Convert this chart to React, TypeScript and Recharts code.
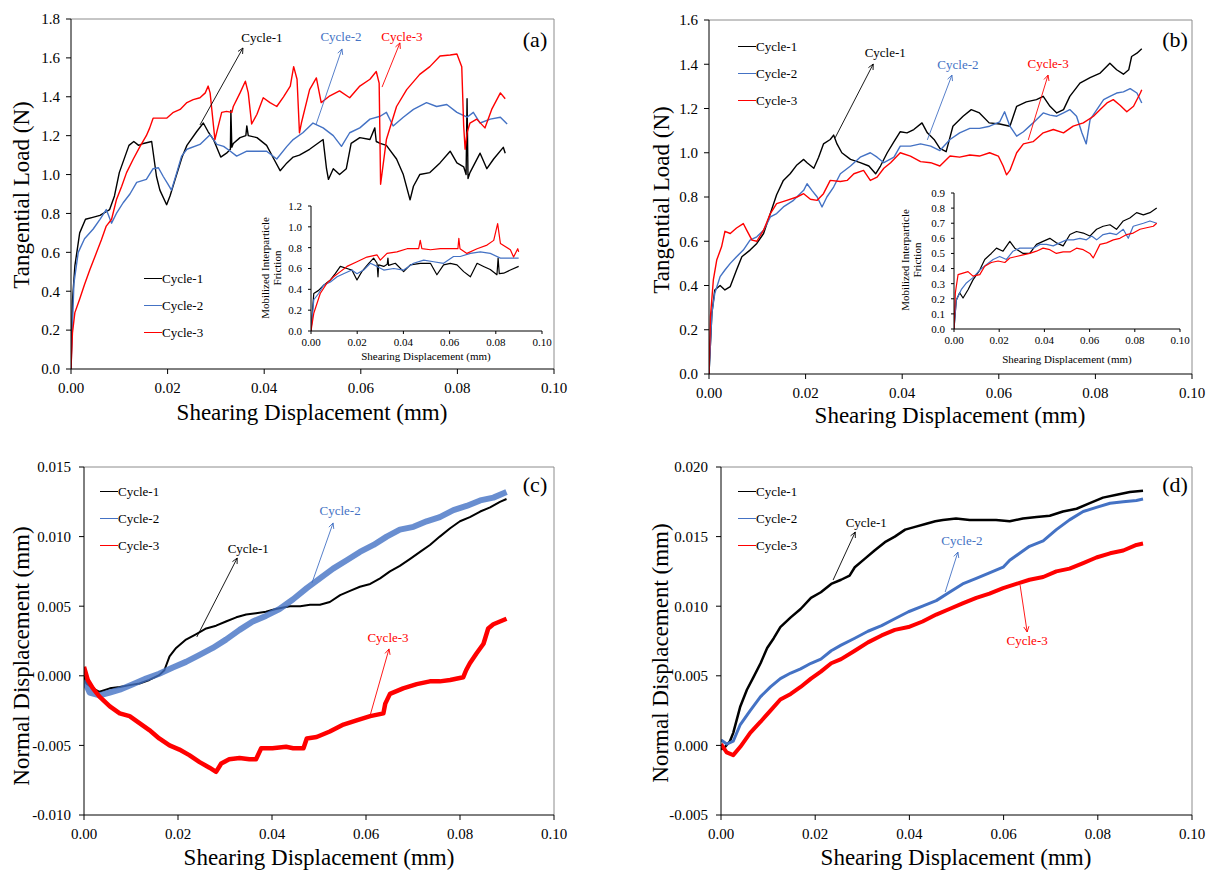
import React from 'react';
import { LineChart, Line, XAxis, YAxis, ReferenceLine, Legend } from 'recharts';

type Pt = [number, number];

const FONT = "'Liberation Serif', 'Times New Roman', serif";
const BLACK = '#000000';
const BLUE = '#4472C4';
const RED = '#FF0000';

const cycleNames = ['Cycle-1', 'Cycle-2', 'Cycle-3'];
const cycleColors = [BLACK, BLUE, RED];

// (a) tangential load vs shearing displacement
const loadA1: Pt[] = [[0,0],[0.0003,0.35],[0.0008,0.53],[0.0018,0.70],[0.003,0.77],[0.0045,0.78],[0.006,0.79],[0.008,0.82],[0.009,0.89],[0.010,1.01],[0.012,1.15],[0.013,1.17],[0.014,1.15],[0.015,1.16],[0.0167,1.17],[0.0177,0.99],[0.0184,0.92],[0.0198,0.845],[0.0205,0.89],[0.0215,0.97],[0.023,1.09],[0.024,1.15],[0.026,1.22],[0.0274,1.265],[0.0284,1.22],[0.0295,1.18],[0.031,1.09],[0.0322,1.11],[0.033,1.13],[0.0331,1.33],[0.0333,1.14],[0.0336,1.16],[0.035,1.19],[0.0362,1.20],[0.0364,1.25],[0.0367,1.20],[0.0385,1.19],[0.0405,1.15],[0.042,1.08],[0.0433,1.02],[0.0447,1.06],[0.046,1.09],[0.0473,1.10],[0.0494,1.13],[0.0522,1.18],[0.0529,1.03],[0.0533,0.975],[0.0543,1.03],[0.0556,1.0],[0.057,1.03],[0.058,1.16],[0.0598,1.19],[0.0619,1.18],[0.0629,1.24],[0.0632,1.17],[0.064,1.16],[0.0653,1.15],[0.0674,1.08],[0.0688,1.0],[0.0702,0.87],[0.0709,0.94],[0.0722,1.0],[0.0743,1.01],[0.0764,1.06],[0.0785,1.12],[0.0799,1.06],[0.0813,1.04],[0.0818,1.0],[0.082,1.39],[0.0822,0.98],[0.0826,1.01],[0.0847,1.11],[0.0861,1.03],[0.0875,1.08],[0.0895,1.14],[0.0899,1.11]];
const loadA2: Pt[] = [[0,0],[0.0006,0.44],[0.0015,0.60],[0.0028,0.67],[0.0046,0.72],[0.006,0.77],[0.0073,0.82],[0.0084,0.75],[0.0094,0.80],[0.0108,0.855],[0.0122,0.90],[0.0136,0.96],[0.0156,0.975],[0.017,1.03],[0.0181,1.035],[0.0191,0.99],[0.0201,0.95],[0.0208,0.92],[0.0219,1.01],[0.0229,1.095],[0.024,1.13],[0.0267,1.155],[0.0288,1.205],[0.0302,1.155],[0.0316,1.145],[0.033,1.12],[0.0343,1.095],[0.0364,1.12],[0.0385,1.12],[0.0405,1.12],[0.0426,1.08],[0.0447,1.145],[0.046,1.18],[0.048,1.215],[0.0501,1.265],[0.0522,1.24],[0.0543,1.2],[0.056,1.145],[0.0577,1.215],[0.0598,1.24],[0.0619,1.285],[0.064,1.30],[0.0653,1.32],[0.0667,1.25],[0.0688,1.295],[0.0709,1.335],[0.0736,1.37],[0.0757,1.35],[0.0778,1.36],[0.0799,1.32],[0.082,1.295],[0.0833,1.32],[0.0847,1.265],[0.0868,1.285],[0.0889,1.295],[0.0903,1.26]];
const loadA3: Pt[] = [[0,0],[0.0003,0.185],[0.0008,0.29],[0.0018,0.36],[0.0028,0.435],[0.0039,0.51],[0.0053,0.60],[0.0063,0.665],[0.0073,0.735],[0.0084,0.77],[0.0094,0.87],[0.0105,0.94],[0.0115,1.01],[0.0129,1.08],[0.0143,1.145],[0.0156,1.20],[0.0163,1.24],[0.017,1.29],[0.0184,1.29],[0.0198,1.29],[0.0212,1.32],[0.0226,1.335],[0.024,1.37],[0.0253,1.385],[0.0267,1.395],[0.0278,1.42],[0.0284,1.455],[0.0288,1.42],[0.0295,1.25],[0.0298,1.18],[0.0305,1.25],[0.0312,1.32],[0.0322,1.325],[0.0333,1.32],[0.0336,1.35],[0.035,1.42],[0.0361,1.48],[0.0367,1.42],[0.0374,1.26],[0.0385,1.31],[0.0398,1.395],[0.0412,1.37],[0.0426,1.35],[0.044,1.40],[0.0454,1.455],[0.0461,1.555],[0.0468,1.49],[0.0473,1.215],[0.0477,1.265],[0.0494,1.437],[0.0508,1.497],[0.0518,1.37],[0.0536,1.405],[0.0556,1.43],[0.0577,1.395],[0.0598,1.455],[0.0619,1.49],[0.0632,1.53],[0.0638,1.47],[0.0641,0.95],[0.0653,1.18],[0.0674,1.35],[0.0695,1.437],[0.0722,1.515],[0.0743,1.555],[0.0764,1.61],[0.0785,1.615],[0.0799,1.62],[0.0809,1.555],[0.0813,1.25],[0.0816,1.13],[0.082,1.215],[0.0826,1.265],[0.084,1.285],[0.0857,1.24],[0.0871,1.335],[0.0889,1.42],[0.0899,1.39]];

// (a) inset: mobilized interparticle friction
const fricA1: Pt[] = [[0,0],[0.0012,0.36],[0.0033,0.39],[0.0055,0.44],[0.0084,0.49],[0.0105,0.55],[0.0127,0.62],[0.0156,0.60],[0.0177,0.585],[0.0199,0.49],[0.022,0.57],[0.025,0.65],[0.0271,0.70],[0.0286,0.65],[0.029,0.52],[0.0293,0.635],[0.0315,0.62],[0.033,0.64],[0.0333,0.70],[0.0336,0.63],[0.0365,0.65],[0.0401,0.57],[0.043,0.635],[0.0473,0.65],[0.0517,0.65],[0.0545,0.54],[0.0574,0.635],[0.0603,0.65],[0.0632,0.635],[0.0661,0.57],[0.069,0.52],[0.0719,0.65],[0.0747,0.62],[0.0776,0.59],[0.0805,0.54],[0.081,0.70],[0.0815,0.55],[0.0834,0.555],[0.0863,0.585],[0.0899,0.62]];
const fricA2: Pt[] = [[0,0],[0.0012,0.30],[0.0033,0.36],[0.0055,0.44],[0.0084,0.47],[0.0113,0.52],[0.0141,0.55],[0.0177,0.585],[0.0199,0.55],[0.0228,0.585],[0.0257,0.65],[0.0286,0.62],[0.0315,0.585],[0.0358,0.60],[0.0401,0.585],[0.0444,0.65],[0.0488,0.68],[0.0531,0.665],[0.0574,0.65],[0.0617,0.715],[0.0646,0.715],[0.069,0.745],[0.0733,0.76],[0.0776,0.745],[0.082,0.70],[0.0863,0.70],[0.0899,0.70]];
const fricA3: Pt[] = [[0,0],[0.0012,0.17],[0.004,0.36],[0.0069,0.46],[0.0098,0.52],[0.0127,0.57],[0.0156,0.62],[0.0199,0.665],[0.0242,0.71],[0.0286,0.73],[0.03,0.68],[0.0329,0.745],[0.0372,0.76],[0.0416,0.79],[0.0466,0.79],[0.0473,0.87],[0.048,0.79],[0.0517,0.78],[0.056,0.79],[0.0603,0.79],[0.0636,0.79],[0.064,0.89],[0.0645,0.79],[0.0675,0.745],[0.0719,0.79],[0.0762,0.825],[0.0791,0.87],[0.0808,1.03],[0.082,0.84],[0.0863,0.78],[0.0877,0.71],[0.0895,0.79],[0.0899,0.76]];

// (b) tangential load vs shearing displacement
const loadB1: Pt[] = [[0,0],[0.0006,0.275],[0.0012,0.38],[0.0023,0.40],[0.0033,0.38],[0.0044,0.395],[0.0057,0.47],[0.0068,0.53],[0.0085,0.56],[0.0099,0.59],[0.0113,0.635],[0.0127,0.725],[0.014,0.81],[0.0154,0.875],[0.0168,0.905],[0.0182,0.945],[0.0196,0.97],[0.0203,0.955],[0.0217,0.93],[0.0227,0.98],[0.0237,1.04],[0.0251,1.06],[0.0258,1.08],[0.0265,1.04],[0.0275,1.0],[0.0293,0.97],[0.0313,0.955],[0.0331,0.94],[0.0345,0.905],[0.0355,0.94],[0.0369,1.0],[0.0383,1.05],[0.0396,1.095],[0.041,1.09],[0.0424,1.105],[0.0441,1.135],[0.0452,1.09],[0.0466,1.06],[0.0478,1.02],[0.0491,1.005],[0.0505,1.12],[0.0526,1.165],[0.0543,1.195],[0.056,1.18],[0.058,1.135],[0.0602,1.13],[0.0623,1.12],[0.0637,1.21],[0.0657,1.23],[0.0678,1.24],[0.0692,1.255],[0.0706,1.21],[0.072,1.18],[0.0734,1.195],[0.0747,1.255],[0.0768,1.315],[0.0789,1.34],[0.081,1.36],[0.083,1.405],[0.0844,1.375],[0.0858,1.355],[0.0869,1.375],[0.0875,1.435],[0.0886,1.45],[0.0896,1.47]];
const loadB2: Pt[] = [[0,0],[0.0006,0.275],[0.0012,0.365],[0.0023,0.44],[0.0033,0.47],[0.0044,0.50],[0.0057,0.53],[0.0071,0.56],[0.0085,0.605],[0.0099,0.62],[0.0113,0.65],[0.0127,0.71],[0.014,0.725],[0.0154,0.755],[0.0175,0.785],[0.0196,0.83],[0.0203,0.86],[0.0213,0.83],[0.0224,0.80],[0.0234,0.755],[0.0244,0.80],[0.0258,0.845],[0.0272,0.905],[0.0293,0.94],[0.0313,0.98],[0.0334,1.0],[0.0348,0.98],[0.0362,0.955],[0.0383,0.98],[0.0396,1.03],[0.0417,1.03],[0.0438,1.04],[0.0459,1.03],[0.0478,1.01],[0.0499,1.06],[0.0519,1.09],[0.054,1.11],[0.056,1.11],[0.0581,1.12],[0.0602,1.14],[0.0612,1.185],[0.0623,1.12],[0.0637,1.075],[0.0651,1.095],[0.0671,1.135],[0.0692,1.18],[0.0706,1.17],[0.072,1.165],[0.0734,1.18],[0.0747,1.195],[0.0761,1.165],[0.0772,1.09],[0.0781,1.04],[0.0789,1.15],[0.0803,1.195],[0.0817,1.24],[0.083,1.255],[0.0844,1.27],[0.0858,1.275],[0.0872,1.29],[0.0886,1.27],[0.0896,1.225]];
const loadB3: Pt[] = [[0,0],[0.0003,0.26],[0.0009,0.425],[0.0016,0.515],[0.0026,0.575],[0.0033,0.645],[0.0044,0.635],[0.0057,0.66],[0.0071,0.68],[0.0078,0.65],[0.0089,0.605],[0.0099,0.60],[0.0113,0.65],[0.0127,0.725],[0.014,0.77],[0.0161,0.785],[0.0182,0.80],[0.0196,0.815],[0.021,0.79],[0.0224,0.785],[0.0237,0.815],[0.0251,0.875],[0.0272,0.87],[0.0286,0.875],[0.03,0.905],[0.032,0.92],[0.0334,0.875],[0.0348,0.89],[0.0362,0.93],[0.0376,0.955],[0.0396,1.0],[0.0417,0.985],[0.0438,0.96],[0.0459,0.955],[0.0478,0.94],[0.0499,0.985],[0.0519,0.98],[0.054,0.99],[0.056,0.985],[0.0581,1.0],[0.0599,0.985],[0.0609,0.94],[0.0616,0.90],[0.0623,0.92],[0.0637,1.0],[0.0651,1.04],[0.0671,1.05],[0.0692,1.09],[0.0713,1.105],[0.0734,1.09],[0.0754,1.12],[0.0775,1.135],[0.0796,1.165],[0.081,1.195],[0.0824,1.225],[0.0837,1.24],[0.0851,1.215],[0.0865,1.185],[0.0879,1.21],[0.0893,1.27],[0.0896,1.285]];

// (b) inset: mobilized interparticle friction
const fricB1: Pt[] = [[0,0],[0.001,0.19],[0.0025,0.24],[0.004,0.205],[0.0062,0.26],[0.0084,0.325],[0.0114,0.39],[0.0136,0.46],[0.0165,0.50],[0.0188,0.535],[0.0217,0.515],[0.0247,0.58],[0.0269,0.535],[0.0306,0.50],[0.0335,0.50],[0.0365,0.56],[0.0394,0.58],[0.0424,0.60],[0.0453,0.57],[0.0483,0.55],[0.0513,0.625],[0.0542,0.645],[0.0572,0.635],[0.0601,0.615],[0.0631,0.66],[0.066,0.68],[0.069,0.69],[0.0719,0.66],[0.0749,0.715],[0.0778,0.735],[0.0808,0.77],[0.0838,0.755],[0.0867,0.77],[0.0897,0.80]];
const fricB2: Pt[] = [[0,0],[0.001,0.19],[0.0032,0.26],[0.0055,0.305],[0.0084,0.34],[0.0114,0.39],[0.0143,0.425],[0.0173,0.46],[0.0202,0.48],[0.0232,0.46],[0.0261,0.515],[0.0291,0.535],[0.032,0.535],[0.035,0.535],[0.038,0.56],[0.0409,0.56],[0.0439,0.55],[0.0468,0.57],[0.0498,0.59],[0.0528,0.59],[0.0557,0.60],[0.0586,0.59],[0.0609,0.615],[0.0631,0.59],[0.066,0.625],[0.069,0.635],[0.0719,0.625],[0.0749,0.66],[0.0771,0.60],[0.0793,0.68],[0.0838,0.70],[0.0867,0.715],[0.0897,0.70]];
const fricB3: Pt[] = [[0,0],[0.0006,0.24],[0.0018,0.36],[0.004,0.37],[0.0062,0.38],[0.0084,0.35],[0.0114,0.36],[0.0136,0.415],[0.0165,0.44],[0.0195,0.45],[0.0225,0.44],[0.0247,0.47],[0.0276,0.48],[0.0306,0.49],[0.0335,0.50],[0.0365,0.515],[0.0394,0.535],[0.0424,0.525],[0.0453,0.50],[0.0483,0.51],[0.0513,0.51],[0.0542,0.535],[0.0572,0.525],[0.0601,0.50],[0.0616,0.47],[0.0646,0.56],[0.0675,0.57],[0.0705,0.59],[0.0734,0.60],[0.0764,0.625],[0.0793,0.635],[0.0823,0.66],[0.0852,0.67],[0.0882,0.68],[0.0897,0.70]];

// (c) normal displacement vs shearing displacement
const normC1: Pt[] = [[0,0],[0.0005,-0.00055],[0.0019,-0.0009],[0.0033,-0.00115],[0.0055,-0.0009],[0.0076,-0.0008],[0.0097,-0.00067],[0.0118,-0.00055],[0.0139,-0.0003],[0.016,0.00005],[0.0171,0.0004],[0.0182,0.0014],[0.0196,0.002],[0.0217,0.0026],[0.0239,0.003],[0.026,0.0034],[0.0281,0.0036],[0.0302,0.0039],[0.0324,0.0042],[0.0345,0.0044],[0.0366,0.0045],[0.0387,0.0046],[0.0408,0.0048],[0.0438,0.005],[0.046,0.005],[0.0481,0.0051],[0.0502,0.0051],[0.0523,0.0053],[0.0545,0.0058],[0.0566,0.0061],[0.0587,0.0064],[0.0609,0.0066],[0.063,0.007],[0.0651,0.0075],[0.0672,0.0079],[0.0694,0.0084],[0.0715,0.0089],[0.0736,0.0094],[0.0757,0.01],[0.0779,0.0106],[0.08,0.0111],[0.0821,0.0114],[0.0843,0.0118],[0.0864,0.0121],[0.0885,0.0125],[0.0899,0.0127]];
const normC2: Pt[] = [[0,-0.0003],[0.0012,-0.0012],[0.0033,-0.0014],[0.0055,-0.0012],[0.0076,-0.001],[0.0104,-0.0006],[0.0132,-0.0002],[0.016,0.00015],[0.0189,0.0006],[0.0217,0.001],[0.0246,0.0015],[0.0274,0.002],[0.0302,0.0026],[0.0331,0.0033],[0.0359,0.0039],[0.0387,0.0043],[0.0416,0.0048],[0.0445,0.0055],[0.0474,0.0063],[0.0502,0.007],[0.053,0.0077],[0.0559,0.0083],[0.0587,0.0089],[0.0616,0.0094],[0.0644,0.01],[0.0672,0.0105],[0.0701,0.0107],[0.0729,0.0111],[0.0757,0.0114],[0.0786,0.0119],[0.0814,0.0122],[0.0843,0.0126],[0.0871,0.0128],[0.0899,0.0132]];
const normC3: Pt[] = [[0,0.00065],[0.0008,-0.0003],[0.0019,-0.0009],[0.0033,-0.0015],[0.0055,-0.0022],[0.0076,-0.0027],[0.0097,-0.0029],[0.0118,-0.0034],[0.0139,-0.0039],[0.016,-0.0045],[0.0182,-0.005],[0.0203,-0.0053],[0.0224,-0.0057],[0.0246,-0.0062],[0.0267,-0.0066],[0.0281,-0.0069],[0.0292,-0.0063],[0.0309,-0.006],[0.0331,-0.0059],[0.0352,-0.006],[0.0366,-0.006],[0.0377,-0.0052],[0.0401,-0.0052],[0.043,-0.0051],[0.0445,-0.0052],[0.0467,-0.0052],[0.0474,-0.0045],[0.0495,-0.0044],[0.0523,-0.004],[0.0552,-0.0035],[0.058,-0.0032],[0.0609,-0.0029],[0.0637,-0.0027],[0.0641,-0.002],[0.0651,-0.0013],[0.0679,-0.0009],[0.0708,-0.0006],[0.0736,-0.0004],[0.0757,-0.0004],[0.0779,-0.0003],[0.0807,-0.0001],[0.0813,0.0004],[0.0821,0.0009],[0.0835,0.0016],[0.085,0.0023],[0.086,0.0034],[0.0871,0.0037],[0.0885,0.0039],[0.0899,0.0041]];

// (d) normal displacement vs shearing displacement
const normD1: Pt[] = [[0,-0.0003],[0.0009,-0.0001],[0.0019,0.0003],[0.0026,0.0009],[0.0041,0.0028],[0.0055,0.004],[0.0069,0.0049],[0.0084,0.0059],[0.0098,0.007],[0.0112,0.0077],[0.0126,0.0085],[0.0148,0.0092],[0.0169,0.0098],[0.0191,0.0106],[0.0212,0.011],[0.0234,0.0116],[0.0255,0.0119],[0.0273,0.0122],[0.0284,0.0128],[0.0305,0.0134],[0.0326,0.014],[0.0348,0.0146],[0.0369,0.015],[0.0391,0.0155],[0.0412,0.0157],[0.0434,0.0159],[0.0455,0.0161],[0.0471,0.0162],[0.0499,0.0163],[0.0528,0.0162],[0.0556,0.0162],[0.0584,0.0162],[0.0613,0.0161],[0.0641,0.0163],[0.067,0.0164],[0.0698,0.0165],[0.0726,0.0168],[0.0755,0.017],[0.0783,0.0174],[0.0811,0.0178],[0.084,0.018],[0.0868,0.0182],[0.0896,0.0183]];
const normD2: Pt[] = [[0,0.0004],[0.0012,0.0001],[0.0026,0.0003],[0.0041,0.0015],[0.0062,0.0025],[0.0084,0.0035],[0.0105,0.0042],[0.0126,0.0048],[0.0148,0.0052],[0.0169,0.0055],[0.0191,0.0059],[0.0212,0.0062],[0.0234,0.0068],[0.0255,0.0072],[0.0284,0.0077],[0.0312,0.0082],[0.0341,0.0086],[0.0369,0.0091],[0.0398,0.0096],[0.0428,0.01],[0.0457,0.0104],[0.0485,0.011],[0.0513,0.0116],[0.0542,0.012],[0.057,0.0124],[0.0599,0.0128],[0.0613,0.0133],[0.0634,0.0138],[0.0655,0.0143],[0.0684,0.0147],[0.0712,0.0155],[0.074,0.0162],[0.0769,0.0168],[0.0797,0.0171],[0.0826,0.0174],[0.0854,0.0175],[0.0882,0.0176],[0.0896,0.0177]];
const normD3: Pt[] = [[0,0.0001],[0.0012,-0.0005],[0.0026,-0.0007],[0.0041,-0.0001],[0.0062,0.0009],[0.0084,0.0017],[0.0105,0.0025],[0.0126,0.0033],[0.0148,0.0037],[0.0169,0.0042],[0.0191,0.0048],[0.0212,0.0053],[0.0234,0.0059],[0.0255,0.0062],[0.0284,0.0068],[0.0312,0.0074],[0.0341,0.0079],[0.0369,0.0083],[0.0398,0.0085],[0.0428,0.0089],[0.0457,0.0094],[0.0485,0.0098],[0.0513,0.0102],[0.0542,0.0106],[0.057,0.0109],[0.0599,0.0113],[0.0627,0.0116],[0.0655,0.0119],[0.0684,0.0121],[0.0712,0.0125],[0.074,0.0127],[0.0769,0.0131],[0.0797,0.0135],[0.0826,0.0138],[0.0854,0.014],[0.0882,0.0144],[0.0896,0.0145]];

// axis ticks
const xTicks = [0, 0.02, 0.04, 0.06, 0.08, 0.1];
const loadTicksA = [0, 0.2, 0.4, 0.6, 0.8, 1.0, 1.2, 1.4, 1.6, 1.8];
const loadTicksB = [0, 0.2, 0.4, 0.6, 0.8, 1.0, 1.2, 1.4, 1.6];
const fricTicksA = [0, 0.2, 0.4, 0.6, 0.8, 1.0, 1.2];
const fricTicksB = [0, 0.1, 0.2, 0.3, 0.4, 0.5, 0.6, 0.7, 0.8, 0.9];
const normTicksC = [-0.01, -0.005, 0, 0.005, 0.01, 0.015];
const normTicksD = [-0.005, 0, 0.005, 0.01, 0.015, 0.02];

// annotation arrows: [label, base x, base y, tip x, tip y, text dx, text dy]
type Note = [string, number, number, number, number, number, number];
const notesA: Note[] = [['Cycle-1', 0.0267, 1.255, 0.0356, 1.651, 19, -10], ['Cycle-2', 0.0507, 1.255, 0.0561, 1.646, -1, -12], ['Cycle-3', 0.0644, 1.45, 0.0681, 1.677, 2, -6]];
const notesB: Note[] = [['Cycle-1', 0.0261, 1.067, 0.034, 1.401, 12, -12], ['Cycle-2', 0.0452, 1.058, 0.0503, 1.351, 6, -11], ['Cycle-3', 0.0661, 1.058, 0.0702, 1.351, 0, -12]];
const notesC: Note[] = [['Cycle-1', 0.024, 0.00279, 0.0326, 0.00846, 11, -10], ['Cycle-2', 0.0485, 0.00667, 0.053, 0.01098, 7, -12], ['Cycle-3', 0.0609, -0.00282, 0.0649, 0.00193, -1, -11]];
const notesD: Note[] = [['Cycle-1', 0.0238, 0.01188, 0.0285, 0.01533, 11, -10], ['Cycle-2', 0.0476, 0.01102, 0.0503, 0.01389, 4, -12], ['Cycle-3', 0.0635, 0.01152, 0.065, 0.00815, 0, 9]];

const steps = (lo: number, hi: number, step: number) => {
  const n = Math.round((hi - lo) / step);
  return Array.from({ length: n + 1 }, (_, i) => +(lo + i * step).toFixed(6));
};

interface SeriesDef {
  data: Pt[];
  width: number;
  opacity?: number;
}

interface PlotProps {
  left: number;
  top: number;
  width: number;
  height: number;
  margin: { top: number; right: number; bottom: number; left: number };
  yDomain: [number, number];
  yTicks: number[];
  yMinorStep: number;
  yDigits: number;
  series: SeriesDef[];
  fontSize: number;
  majorTick: number;
  minorTick: number;
  xTickMargin: number;
  yTickMargin: number;
  frame?: boolean;
  notes?: Note[];
  legendAt?: [number, number];
}

function arrowShape(label: string, color: string, dx: number, dy: number) {
  return (props: any) => {
    const { x1, y1, x2, y2 } = props;
    const ang = Math.atan2(y2 - y1, x2 - x1);
    const h = 6;
    const a1 = ang + Math.PI - 0.45;
    const a2 = ang + Math.PI + 0.45;
    return (
      <g>
        <line x1={x1} y1={y1} x2={x2} y2={y2} stroke={color} strokeWidth={0.9} />
        <polyline
          points={`${x2 + h * Math.cos(a1)},${y2 + h * Math.sin(a1)} ${x2},${y2} ${x2 + h * Math.cos(a2)},${y2 + h * Math.sin(a2)}`}
          fill="none"
          stroke={color}
          strokeWidth={0.9}
        />
        <text x={x2 + dx} y={y2 + dy} textAnchor="middle" dominantBaseline="central" fill={color} fontSize={13} fontFamily={FONT}>
          {label}
        </text>
      </g>
    );
  };
}

function CycleLegend() {
  return (
    <div style={{ fontFamily: FONT, fontSize: 13, color: '#000' }}>
      {cycleNames.map((name, i) => (
        <div key={name} style={{ display: 'flex', alignItems: 'center', height: 27 }}>
          <span style={{ display: 'inline-block', width: 18, height: 0, borderTop: `1.5px solid ${cycleColors[i]}` }} />
          <span>{name}</span>
        </div>
      ))}
    </div>
  );
}

function Plot(p: PlotProps) {
  const xMinor = steps(0, 0.1, 0.004);
  const yMinor = steps(p.yDomain[0], p.yDomain[1], p.yMinorStep);
  const tickStyle = { fill: '#000', fontSize: p.fontSize, fontFamily: FONT };
  return (
    <div style={{ position: 'absolute', left: p.left, top: p.top }}>
      <LineChart width={p.width} height={p.height} margin={p.margin}>
        <XAxis xAxisId="minor" type="number" dataKey="x" domain={[0, 0.1]} ticks={xMinor} interval={0} height={1}
          mirror axisLine={false} tick={false} tickSize={p.minorTick} stroke="#000" allowDataOverflow />
        <XAxis xAxisId="major" type="number" dataKey="x" domain={[0, 0.1]} ticks={xTicks} interval={0} height={1}
          tickSize={p.majorTick} tickMargin={p.xTickMargin} tick={tickStyle} stroke="#000"
          tickFormatter={(v: number) => v.toFixed(2)} allowDataOverflow />
        <YAxis yAxisId="minor" type="number" domain={p.yDomain} ticks={yMinor} interval={0} width={1}
          mirror axisLine={false} tick={false} tickSize={p.minorTick} stroke="#000" allowDataOverflow />
        <YAxis yAxisId="major" type="number" domain={p.yDomain} ticks={p.yTicks} interval={0} width={1}
          tickSize={p.majorTick} tickMargin={p.yTickMargin} tick={tickStyle} stroke="#000"
          tickFormatter={(v: number) => v.toFixed(p.yDigits)} allowDataOverflow />
        {p.frame && <ReferenceLine xAxisId="major" yAxisId="major" y={p.yDomain[1]} stroke="#8c8c8c" strokeWidth={1} />}
        {p.frame && <ReferenceLine xAxisId="major" yAxisId="major" x={0.1} stroke="#8c8c8c" strokeWidth={1} />}
        {p.series.map((s, i) => (
          <Line
            key={i}
            xAxisId="major"
            yAxisId="major"
            data={s.data.map(([x, y]) => ({ x, y }))}
            dataKey="y"
            name={cycleNames[i]}
            type="linear"
            stroke={cycleColors[i]}
            strokeWidth={s.width}
            strokeOpacity={s.opacity ?? 1}
            strokeLinejoin="round"
            dot={false}
            isAnimationActive={false}
          />
        ))}
        {(p.notes ?? []).map(([label, bx, by, tx, ty, dx, dy], i) => (
          <ReferenceLine
            key={label}
            xAxisId="major"
            yAxisId="major"
            segment={[{ x: bx, y: by }, { x: tx, y: ty }]}
            shape={arrowShape(label, cycleColors[i], dx, dy)}
          />
        ))}
        {p.legendAt && (
          <Legend
            layout="vertical"
            verticalAlign="middle"
            align="center"
            wrapperStyle={{ left: p.legendAt[0], top: p.legendAt[1], width: 'auto', height: 'auto' }}
            content={() => <CycleLegend />}
          />
        )}
      </LineChart>
    </div>
  );
}

function Text({ x, y, size, rotate, children }: { x: number; y: number; size: number; rotate?: boolean; children: React.ReactNode }) {
  return (
    <div
      style={{
        position: 'absolute',
        left: x,
        top: y,
        transform: `translate(-50%, -50%)${rotate ? ' rotate(-90deg)' : ''}`,
        whiteSpace: 'nowrap',
        fontFamily: FONT,
        fontSize: size,
        lineHeight: 1.1,
        textAlign: 'center',
        color: '#000',
      }}
    >
      {children}
    </div>
  );
}

const mainStyle = { fontSize: 15, majorTick: 5, minorTick: 4, xTickMargin: 8, yTickMargin: 6 };
const insetStyle = { fontSize: 11, majorTick: 3, minorTick: 3, xTickMargin: 4, yTickMargin: 6 };

export default function App() {
  return (
    <div style={{ position: 'absolute', left: 0, top: 0, width: 1208, height: 874, background: '#fff', overflow: 'hidden' }}>
      {/* (a) */}
      <Plot {...mainStyle} left={0} top={0} width={604} height={440}
        margin={{ top: 19, right: 50, bottom: 70, left: 70 }}
        yDomain={[0, 1.8]} yTicks={loadTicksA} yMinorStep={0.04} yDigits={1} frame
        series={[{ data: loadA1, width: 1.4 }, { data: loadA2, width: 1.4 }, { data: loadA3, width: 1.4 }]}
        notes={notesA} legendAt={[144, 265]} />
      <Plot {...insetStyle} left={250} top={195} width={320} height={175}
        margin={{ top: 11, right: 28, bottom: 38, left: 60 }}
        yDomain={[0, 1.2]} yTicks={fricTicksA} yMinorStep={0.04} yDigits={1}
        series={[{ data: fricA1, width: 1.2 }, { data: fricA2, width: 1.2 }, { data: fricA3, width: 1.2 }]} />
      <Text x={22} y={195} size={23} rotate>Tangential Load (N)</Text>
      <Text x={312} y={413} size={23}>Shearing Displacement (mm)</Text>
      <Text x={271} y={268} size={11} rotate>Mobilized Interparticle<br />Friction</Text>
      <Text x={426} y={356} size={11}>Shearing Displacement (mm)</Text>
      <Text x={535} y={40} size={22}>(a)</Text>

      {/* (b) */}
      <Plot {...mainStyle} left={604} top={0} width={604} height={440}
        margin={{ top: 20, right: 16, bottom: 65, left: 104 }}
        yDomain={[0, 1.6]} yTicks={loadTicksB} yMinorStep={0.04} yDigits={1} frame
        series={[{ data: loadB1, width: 1.4 }, { data: loadB2, width: 1.4 }, { data: loadB3, width: 1.4 }]}
        notes={notesB} legendAt={[134, 33]} />
      <Plot {...insetStyle} left={895} top={185} width={305} height={190}
        margin={{ top: 8, right: 20, bottom: 45, left: 58 }}
        yDomain={[0, 0.9]} yTicks={fricTicksB} yMinorStep={0.02} yDigits={1}
        series={[{ data: fricB1, width: 1.2 }, { data: fricB2, width: 1.2 }, { data: fricB3, width: 1.2 }]} />
      <Text x={662} y={200} size={23} rotate>Tangential Load (N)</Text>
      <Text x={950} y={416} size={23}>Shearing Displacement (mm)</Text>
      <Text x={911} y={260} size={11} rotate>Mobilized Interparticle<br />Friction</Text>
      <Text x={1067} y={359} size={11}>Shearing Displacement (mm)</Text>
      <Text x={1175} y={40} size={22}>(b)</Text>

      {/* (c) */}
      <Plot {...mainStyle} yTickMargin={8} left={0} top={440} width={604} height={434}
        margin={{ top: 27, right: 50, bottom: 58, left: 83 }}
        yDomain={[-0.01, 0.015]} yTicks={normTicksC} yMinorStep={0.001} yDigits={3} frame
        series={[{ data: normC1, width: 2 }, { data: normC2, width: 6, opacity: 0.8 }, { data: normC3, width: 4.5 }]}
        notes={notesC} legendAt={[100, 38]} />
      <Text x={22} y={656} size={23} rotate>Normal Displacement (mm)</Text>
      <Text x={319} y={858} size={23}>Shearing Displacement (mm)</Text>
      <Text x={535} y={485} size={22}>(c)</Text>

      {/* (d) */}
      <Plot {...mainStyle} yTickMargin={8} left={604} top={440} width={604} height={434}
        margin={{ top: 27, right: 16, bottom: 58, left: 116 }}
        yDomain={[-0.005, 0.02]} yTicks={normTicksD} yMinorStep={0.001} yDigits={3} frame
        series={[{ data: normD1, width: 2.5 }, { data: normD2, width: 3 }, { data: normD3, width: 4 }]}
        notes={notesD} legendAt={[134, 38]} />
      <Text x={661} y={653} size={23} rotate>Normal Displacement (mm)</Text>
      <Text x={956} y={858} size={23}>Shearing Displacement (mm)</Text>
      <Text x={1175} y={485} size={22}>(d)</Text>
    </div>
  );
}
